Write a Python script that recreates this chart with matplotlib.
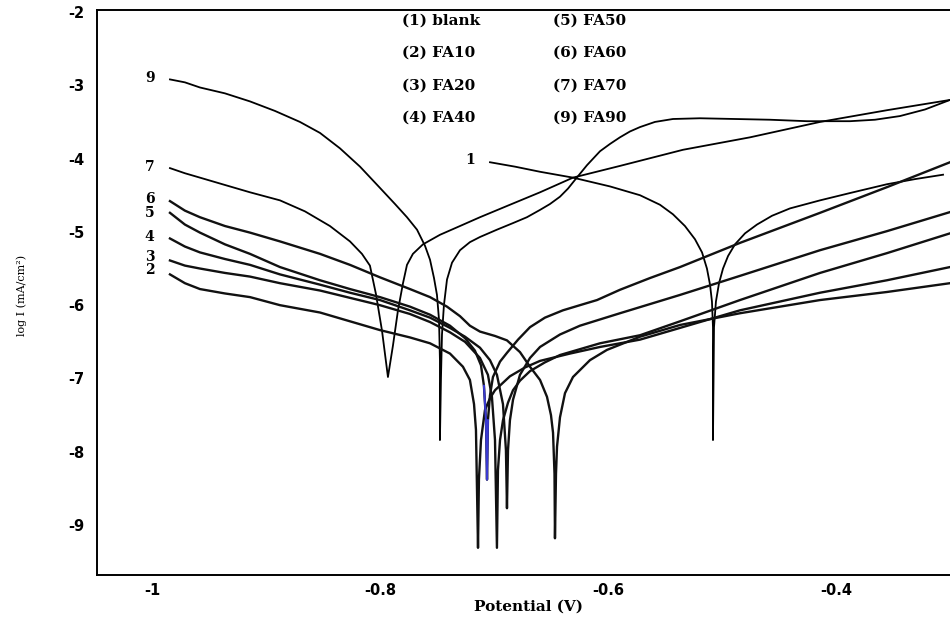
import matplotlib
matplotlib.use("Agg")
import matplotlib.pyplot as plt

# ---------------- data (potential V, log i) ----------------
# (1) blank
v1 = [-0.7035, -0.6816, -0.6596, -0.6307, -0.5982, -0.5719, -0.5544, -0.5430, -0.5325, -0.5237,
      -0.5175, -0.5132, -0.5105, -0.5088, -0.5079, -0.5079,
      -0.5070, -0.5053, -0.5026, -0.4991, -0.4947, -0.4886, -0.4798, -0.4693, -0.4561, -0.4404,
      -0.4140, -0.3877, -0.3553, -0.3307, -0.3061]
i1 = [-4.05, -4.11, -4.18, -4.26, -4.38, -4.50, -4.63, -4.76, -4.92, -5.10,
      -5.28, -5.50, -5.72, -5.95, -6.30, -7.84,
      -6.30, -5.95, -5.70, -5.50, -5.33, -5.17, -5.02, -4.90, -4.78, -4.68,
      -4.57, -4.47, -4.35, -4.28, -4.22]
# (2) FA10
v2 = [-0.9842, -0.9711, -0.9579, -0.9360, -0.9140, -0.8877, -0.8526, -0.8263, -0.8000, -0.7737,
      -0.7561, -0.7386, -0.7272, -0.7211, -0.7175, -0.7158, -0.7140,
      -0.7132, -0.7114, -0.7079, -0.7035, -0.6991, -0.6860, -0.6728, -0.6596, -0.6333, -0.6070,
      -0.5719, -0.5368, -0.4842, -0.4140, -0.3553, -0.3000]
i2 = [-5.58, -5.70, -5.78, -5.84, -5.89, -6.00, -6.10, -6.22, -6.34, -6.44,
      -6.52, -6.66, -6.84, -7.02, -7.35, -7.70, -9.31,
      -8.38, -7.84, -7.43, -7.27, -7.16, -6.97, -6.85, -6.76, -6.66, -6.57,
      -6.47, -6.31, -6.07, -5.83, -5.66, -5.48]
# (3) FA20
v3 = [-0.9842, -0.9711, -0.9579, -0.9360, -0.9140, -0.8877, -0.8526, -0.8263, -0.8000, -0.7737,
      -0.7561, -0.7386, -0.7254, -0.7123, -0.7053, -0.7018, -0.6991, -0.6974,
      -0.6965, -0.6947, -0.6921, -0.6877, -0.6833, -0.6772, -0.6684, -0.6553, -0.6421, -0.6070,
      -0.5719, -0.5368, -0.4842, -0.4140, -0.3553, -0.3000]
i3 = [-5.39, -5.46, -5.50, -5.56, -5.61, -5.70, -5.80, -5.90, -6.00, -6.12,
      -6.23, -6.37, -6.50, -6.72, -6.95, -7.25, -7.84, -9.31,
      -8.25, -7.84, -7.57, -7.33, -7.16, -7.03, -6.90, -6.78, -6.68, -6.52,
      -6.41, -6.22, -5.93, -5.56, -5.29, -5.02]
# (4) FA40
v4 = [-0.9842, -0.9711, -0.9579, -0.9360, -0.9140, -0.8877, -0.8526, -0.8263, -0.8000, -0.7737,
      -0.7561, -0.7386, -0.7254, -0.7123, -0.7035, -0.6974, -0.6921, -0.6895, -0.6886,
      -0.6877, -0.6860, -0.6833, -0.6772, -0.6684, -0.6596, -0.6421, -0.6246, -0.5895,
      -0.5368, -0.4842, -0.4140, -0.3553, -0.3000]
i4 = [-5.09, -5.20, -5.28, -5.37, -5.45, -5.58, -5.72, -5.83, -5.93, -6.07,
      -6.17, -6.31, -6.43, -6.58, -6.75, -6.95, -7.35, -7.98, -8.77,
      -7.98, -7.57, -7.29, -6.95, -6.72, -6.57, -6.40, -6.28, -6.11,
      -5.86, -5.60, -5.25, -4.99, -4.73]
# (5) FA50
v5 = [-0.9842, -0.9711, -0.9579, -0.9360, -0.9140, -0.8877, -0.8526, -0.8263, -0.8000, -0.7737,
      -0.7561, -0.7386, -0.7254, -0.7167, -0.7114, -0.7088, -0.7070, -0.7061,
      -0.7053, -0.7035, -0.7009, -0.6947, -0.6886, -0.6789, -0.6684, -0.6553, -0.6395, -0.6246,
      -0.6096, -0.5895, -0.5632, -0.5368, -0.4842, -0.4140, -0.3553, -0.3000]
i5 = [-4.74, -4.90, -5.01, -5.17, -5.30, -5.48, -5.66, -5.78, -5.89, -6.02,
      -6.13, -6.28, -6.45, -6.62, -6.82, -7.10, -7.57, -8.38,
      -7.57, -7.23, -6.98, -6.77, -6.65, -6.47, -6.30, -6.17, -6.07, -6.00,
      -5.93, -5.79, -5.63, -5.48, -5.15, -4.74, -4.39, -4.05]
# (6) FA60
v6 = [-0.9842, -0.9711, -0.9579, -0.9360, -0.9140, -0.8877, -0.8526, -0.8263, -0.8000, -0.7737,
      -0.7561, -0.7412, -0.7298, -0.7211, -0.7123, -0.6991, -0.6886, -0.6772, -0.6684, -0.6596,
      -0.6535, -0.6500, -0.6482, -0.6469, -0.6465,
      -0.6456, -0.6447, -0.6421, -0.6377, -0.6307, -0.6158, -0.6009, -0.5719, -0.5368, -0.4842,
      -0.4140, -0.3553, -0.3000]
i6 = [-4.58, -4.71, -4.80, -4.92, -5.01, -5.13, -5.30, -5.45, -5.62, -5.78,
      -5.89, -6.02, -6.15, -6.28, -6.36, -6.42, -6.48, -6.64, -6.84, -7.02,
      -7.25, -7.50, -7.74, -8.30, -9.18,
      -8.30, -7.93, -7.53, -7.20, -6.98, -6.75, -6.61, -6.43, -6.27, -6.11,
      -5.93, -5.82, -5.70]
# (7) FA70
v7 = [-0.9842, -0.9711, -0.9579, -0.9360, -0.9140, -0.8877, -0.8658, -0.8439, -0.8263, -0.8158,
      -0.8088, -0.8035, -0.7982, -0.7930,
      -0.7886, -0.7842, -0.7798, -0.7763, -0.7711, -0.7623, -0.7474, -0.7298, -0.7123, -0.6860,
      -0.6596, -0.6307, -0.5895, -0.5342, -0.4754, -0.4140, -0.3553, -0.3000]
i7 = [-4.13, -4.20, -4.26, -4.36, -4.46, -4.57, -4.72, -4.92, -5.13, -5.30,
      -5.46, -5.85, -6.35, -6.98,
      -6.55, -6.07, -5.70, -5.45, -5.30, -5.17, -5.04, -4.92, -4.80, -4.63,
      -4.46, -4.26, -4.10, -3.88, -3.71, -3.50, -3.34, -3.20]
# (9) FA90
v9 = [-0.9842, -0.9711, -0.9579, -0.9360, -0.9140, -0.8921, -0.8702, -0.8526, -0.8351, -0.8175,
      -0.8000, -0.7868, -0.7763, -0.7675, -0.7605, -0.7561, -0.7526, -0.7500, -0.7482, -0.7474,
      -0.7474,
      -0.7465, -0.7456, -0.7439, -0.7412, -0.7368, -0.7298, -0.7211, -0.7123, -0.6974, -0.6833,
      -0.6711, -0.6596, -0.6509, -0.6421, -0.6351, -0.6289, -0.6184, -0.6070, -0.5982, -0.5895,
      -0.5807, -0.5719, -0.5588, -0.5430, -0.5193, -0.4886, -0.4579, -0.4254, -0.3877, -0.3658,
      -0.3439, -0.3219, -0.3000]
i9 = [-2.92, -2.96, -3.03, -3.11, -3.22, -3.35, -3.50, -3.65, -3.86, -4.11,
      -4.40, -4.62, -4.80, -4.97, -5.19, -5.38, -5.63, -5.86, -6.20, -6.75,
      -7.84,
      -7.00, -6.40, -6.00, -5.65, -5.42, -5.25, -5.14, -5.07, -4.97, -4.88,
      -4.80, -4.70, -4.62, -4.52, -4.41, -4.29, -4.09, -3.90, -3.80, -3.71,
      -3.63, -3.57, -3.50, -3.46, -3.45, -3.46, -3.47, -3.49, -3.49, -3.47,
      -3.42, -3.33, -3.20]

thin_curves = [(v1, i1), (v7, i7), (v9, i9)]
band_curves = [(v2, i2), (v3, i3), (v4, i4), (v5, i5), (v6, i6)]

# blue stretch of curve 5 near its corrosion potential
blue_v = v5[15:19]
blue_i = i5[15:19]

# curve number labels
num_labels = ["9", "7", "6", "5", "4", "3", "2", "1"]
num_v = [-1.002, -1.002, -1.002, -1.002, -1.002, -1.002, -1.002, -0.721]
num_i = [-2.90, -4.12, -4.55, -4.74, -5.07, -5.34, -5.52, -4.02]

legend_col1 = ["(1) blank", "(2) FA10", "(3) FA20", "(4) FA40"]
legend_col2 = ["(5) FA50", "(6) FA60", "(7) FA70", "(9) FA90"]

xticks = [-1.0, -0.8, -0.6, -0.4]
xticklabels = ["-1", "-0.8", "-0.6", "-0.4"]
yticks = [-2, -3, -4, -5, -6, -7, -8, -9]
yticklabels = ["-2", "-3", "-4", "-5", "-6", "-7", "-8", "-9"]

# ---------------- figure ----------------
fig = plt.figure(figsize=(9.5, 6.23), dpi=100)
ax = fig.add_axes([97 / 950, 1 - 575 / 623, 1 - 97 / 950, (575 - 10) / 623])
ax.set_xlim(-1.0482, -0.300)
ax.set_ylim(-9.681, -1.973)

for v, i in thin_curves:
    ax.plot(v, i, color="black", lw=1.3, solid_joinstyle="round")
for v, i in band_curves:
    ax.plot(v, i, color="#111111", lw=1.7, solid_joinstyle="round")
ax.plot(blue_v, blue_i, color="#3a3ad0", lw=1.5)

for t, xv, yv in zip(num_labels, num_v, num_i):
    ax.text(xv, yv, t, ha="center", va="center", fontsize=10,
            fontweight="bold", family="DejaVu Serif")

rows = [0.982, 0.924, 0.866, 0.809]
for t, yy in zip(legend_col1, rows):
    ax.text(0.3576, yy, t, transform=ax.transAxes, ha="left", va="center",
            fontsize=11, fontweight="bold", family="DejaVu Serif")
for t, yy in zip(legend_col2, rows):
    ax.text(0.5346, yy, t, transform=ax.transAxes, ha="left", va="center",
            fontsize=11, fontweight="bold", family="DejaVu Serif")

ax.set_xticks(xticks)
ax.set_xticklabels(xticklabels)
ax.set_yticks(yticks)
ax.set_yticklabels(yticklabels)
ax.tick_params(length=0, labelsize=10.5)
ax.tick_params(axis="x", pad=6)
ax.tick_params(axis="y", pad=9)
for lab in ax.get_xticklabels() + ax.get_yticklabels():
    lab.set_fontweight("bold")
    lab.set_family("DejaVu Sans")

ax.spines["right"].set_visible(False)
for s in ["left", "top", "bottom"]:
    ax.spines[s].set_linewidth(1.4)

fig.text(529 / 950, 1 - 607 / 623, "Potential (V)", ha="center", va="center",
         fontsize=11, fontweight="bold", family="DejaVu Serif")
fig.text(22 / 950, 1 - 295 / 623, "log I (mA/cm²)", ha="center", va="center",
         rotation=90, fontsize=8, family="DejaVu Serif")

fig.savefig("out.png", dpi=100, facecolor="white")
